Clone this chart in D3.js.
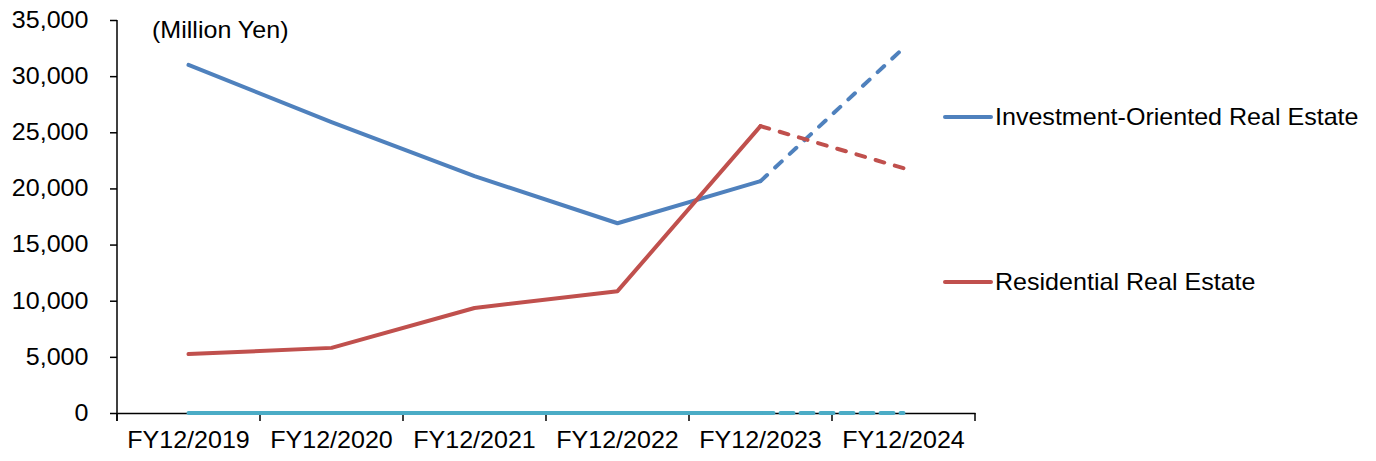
<!DOCTYPE html>
<html>
<head>
<meta charset="utf-8">
<script src="https://cdn.jsdelivr.net/npm/d3@7"></script>
<style>
	html, body { margin: 0; padding: 0; background: #fff; }
	svg text { font-family: "Liberation Sans", Arial, sans-serif; fill: #000; }
</style>
</head>
<body>
<svg id="chart" width="1376" height="461"></svg>
<script>
// --- data ---
var categories = ["FY12/2019", "FY12/2020", "FY12/2021", "FY12/2022", "FY12/2023", "FY12/2024"];
var investmentValues = [31000, 25900, 21100, 16900, 20650, 32500];
var residentialValues = [5250, 5800, 9350, 10850, 25550, 21800];
var otherValues = [0, 0, 0, 0, 0, 0];
var yTicks = [0, 5000, 10000, 15000, 20000, 25000, 30000, 35000];
var forecastIndex = 4; // from FY12/2023 on the line is a forecast (dashed)

var seriesList = [
	{ name: "Investment-Oriented Real Estate", values: investmentValues, color: "#4F81BD", dash: "9,11", legend: true },
	{ name: "Residential Real Estate", values: residentialValues, color: "#C0504D", dash: "9,11", legend: true },
	{ name: "", values: otherValues, color: "#4BACC6", dash: "13,7", legend: false }
];

var plotLeft = 117, plotRight = 975, plotTop = 20, plotBottom = 413;
var fontSize = 23;
var stretch = 1.09; // the reference text is a bit wider than Arial

var svg = d3.select("#chart");

var xScale = d3.scaleBand().domain(categories).range([plotLeft, plotRight]).padding(0);
var yScale = d3.scaleLinear().domain([0, 35000]).range([plotBottom, plotTop]);

function cx(i) { return xScale(categories[i]) + xScale.bandwidth() / 2; }

// y axis
var yAxis = d3.axisLeft(yScale)
	.tickValues(yTicks)
	.tickFormat(d3.format(","))
	.tickSize(7)
	.tickSizeOuter(0);
var gy = svg.append("g").attr("transform", "translate(" + plotLeft + ",0)").call(yAxis);
gy.select(".domain").attr("stroke", "#000").attr("stroke-width", 1.5)
	.attr("d", "M0," + plotTop + "V" + (plotBottom + 8));
gy.selectAll(".tick line").attr("stroke", "#000").attr("stroke-width", 1.5);
gy.selectAll(".tick text")
	.attr("x", -28.5 / stretch)
	.attr("transform", "scale(" + stretch + ",1)")
	.style("font-size", fontSize + "px").attr("font-family", null);

// x axis (labels centred in the band, tick marks on band boundaries)
var xAxis = d3.axisBottom(xScale).tickSize(0).tickSizeOuter(0).tickPadding(19);
var gx = svg.append("g").attr("transform", "translate(0," + plotBottom + ")").call(xAxis);
gx.select(".domain").attr("stroke", "#000").attr("stroke-width", 1.5);
gx.selectAll(".tick text")
	.attr("transform", "scale(" + stretch + ",1)")
	.style("font-size", fontSize + "px").attr("font-family", null);
var boundaries = categories.map(function(c) { return xScale(c); }).concat([xScale.range()[1]]);
gx.selectAll("line.bnd").data(boundaries).enter().append("line")
	.attr("class", "bnd")
	.attr("x1", function(d) { return d; }).attr("x2", function(d) { return d; })
	.attr("y1", 0).attr("y2", 8)
	.attr("stroke", "#000").attr("stroke-width", 1.5);

// unit label
svg.append("g").attr("transform", "translate(152,38)")
	.append("text")
	.attr("transform", "scale(" + stretch + ",1)")
	.style("font-size", fontSize + "px")
	.text("(Million Yen)");

// lines
var line = d3.line()
	.x(function(d) { return cx(d.i); })
	.y(function(d) { return yScale(d.v); });

seriesList.forEach(function(s) {
	var pts = s.values.map(function(v, i) { return { i: i, v: v }; });
	var actual = pts.slice(0, forecastIndex + 1);
	var forecast = pts.slice(forecastIndex);
	svg.append("path").datum(forecast)
		.attr("d", line)
		.attr("fill", "none").attr("stroke", s.color).attr("stroke-width", 4)
		.attr("stroke-linecap", "round").attr("stroke-dasharray", s.dash);
	svg.append("path").datum(actual)
		.attr("d", line)
		.attr("fill", "none").attr("stroke", s.color).attr("stroke-width", 4)
		.attr("stroke-linecap", "round").attr("stroke-linejoin", "round");
});

// legend
var legendY = [117, 282];
seriesList.filter(function(s) { return s.legend; }).forEach(function(s, k) {
	var g = svg.append("g").attr("transform", "translate(945," + legendY[k] + ")");
	g.append("line").attr("x1", 0).attr("x2", 46).attr("y1", 0).attr("y2", 0)
		.attr("stroke", s.color).attr("stroke-width", 4).attr("stroke-linecap", "round");
	g.append("text").attr("x", 50 / stretch).attr("dy", "0.35em")
		.attr("transform", "scale(" + stretch + ",1)")
		.style("font-size", fontSize + "px").text(s.name);
});
</script>
</body>
</html>
